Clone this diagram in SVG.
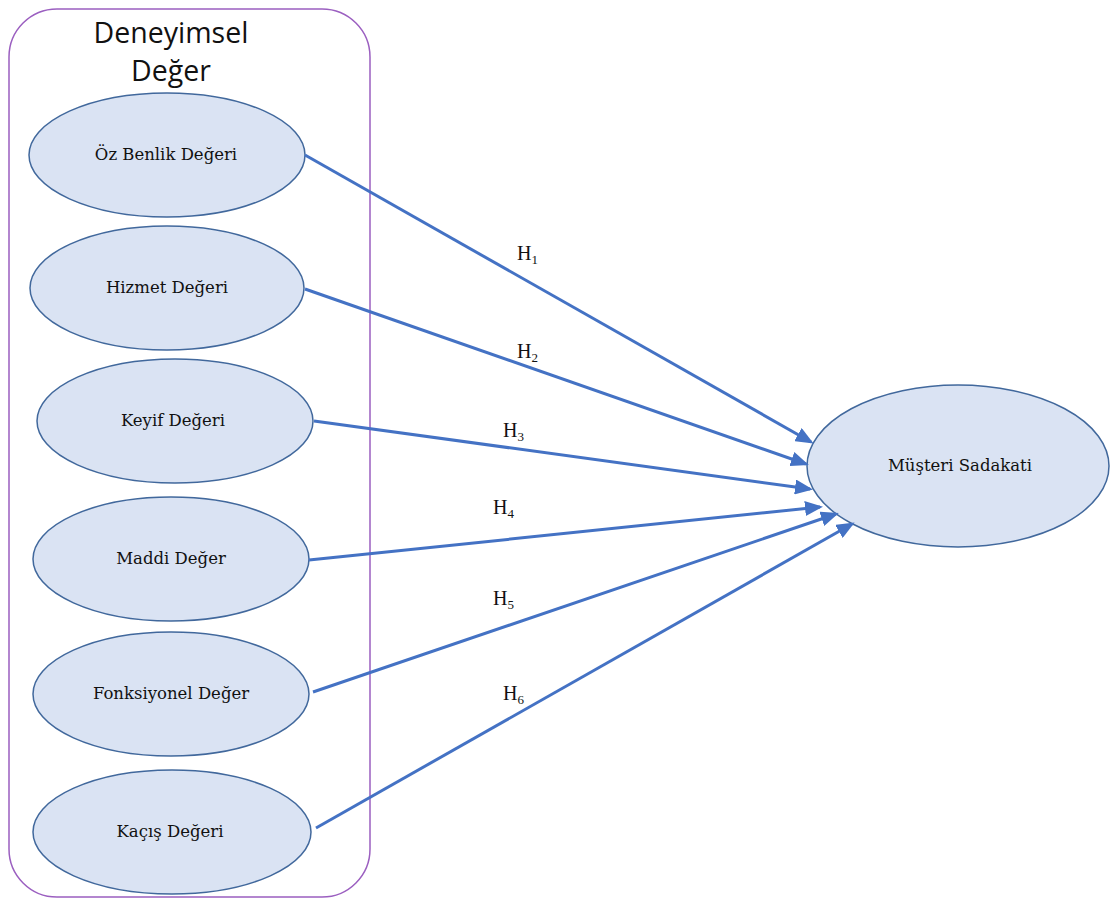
<svg xmlns="http://www.w3.org/2000/svg" width="1110" height="901" viewBox="0 0 1110 901">
<defs>
<style>
.box{fill:none;stroke:#9b5fc0;stroke-width:1.5}
.node{fill:#dae3f3;stroke:#41689c;stroke-width:1.5}
.lbl{font-family:"DejaVu Serif","Liberation Serif",serif;font-size:16.5px;fill:#111;text-anchor:middle}
.title{font-family:"Open Sans","Liberation Sans",sans-serif;font-size:28.5px;fill:#111;text-anchor:middle}
.h{font-family:"Liberation Serif",serif;font-size:20px;fill:#111}
.edge{stroke:#4472c4;stroke-width:3;fill:none;marker-end:url(#arr)}
</style>
<marker id="arr" markerWidth="6" markerHeight="5" refX="5" refY="2.5" orient="auto" markerUnits="strokeWidth">
<path d="M0,0 L6,2.5 L0,5 Z" fill="#4472c4"/>
</marker>
</defs>
<g id="container">
<rect class="box" x="9" y="9" width="361" height="888" rx="48" ry="48"/>
<text class="title" x="171" y="43">Deneyimsel</text>
<text class="title" x="171" y="81">Değer</text>
</g>
<g id="n1"><ellipse class="node" cx="167" cy="155" rx="138" ry="62"/><text class="lbl" x="166" y="160">Öz Benlik Değeri</text></g>
<g id="n2"><ellipse class="node" cx="167" cy="288" rx="137" ry="62"/><text class="lbl" x="167" y="293">Hizmet Değeri</text></g>
<g id="n3"><ellipse class="node" cx="175" cy="421" rx="138" ry="62"/><text class="lbl" x="173" y="426">Keyif Değeri</text></g>
<g id="n4"><ellipse class="node" cx="171" cy="559" rx="138" ry="62"/><text class="lbl" x="171" y="564">Maddi Değer</text></g>
<g id="n5"><ellipse class="node" cx="171" cy="694" rx="138" ry="62"/><text class="lbl" x="171" y="699">Fonksiyonel Değer</text></g>
<g id="n6"><ellipse class="node" cx="172" cy="832" rx="139" ry="62"/><text class="lbl" x="170" y="837">Kaçış Değeri</text></g>
<g id="target"><ellipse class="node" cx="958" cy="466" rx="151" ry="81"/><text class="lbl" x="960" y="471">Müşteri Sadakati</text></g>
<g id="connectors">
<line class="edge" x1="305" y1="155" x2="811" y2="442"/>
<line class="edge" x1="305" y1="289" x2="806" y2="464"/>
<line class="edge" x1="314" y1="421" x2="810" y2="489"/>
<line class="edge" x1="309" y1="560" x2="820" y2="507"/>
<line class="edge" x1="313" y1="692" x2="836" y2="514"/>
<line class="edge" x1="316" y1="828" x2="852" y2="524"/>
</g>
<g id="labels">
<text class="h" x="517" y="260">H<tspan font-size="13" dy="4">1</tspan></text>
<text class="h" x="517" y="358">H<tspan font-size="13" dy="4">2</tspan></text>
<text class="h" x="503" y="437">H<tspan font-size="13" dy="4">3</tspan></text>
<text class="h" x="493" y="514">H<tspan font-size="13" dy="4">4</tspan></text>
<text class="h" x="493" y="605">H<tspan font-size="13" dy="4">5</tspan></text>
<text class="h" x="503" y="700">H<tspan font-size="13" dy="4">6</tspan></text>
</g>
</svg>
